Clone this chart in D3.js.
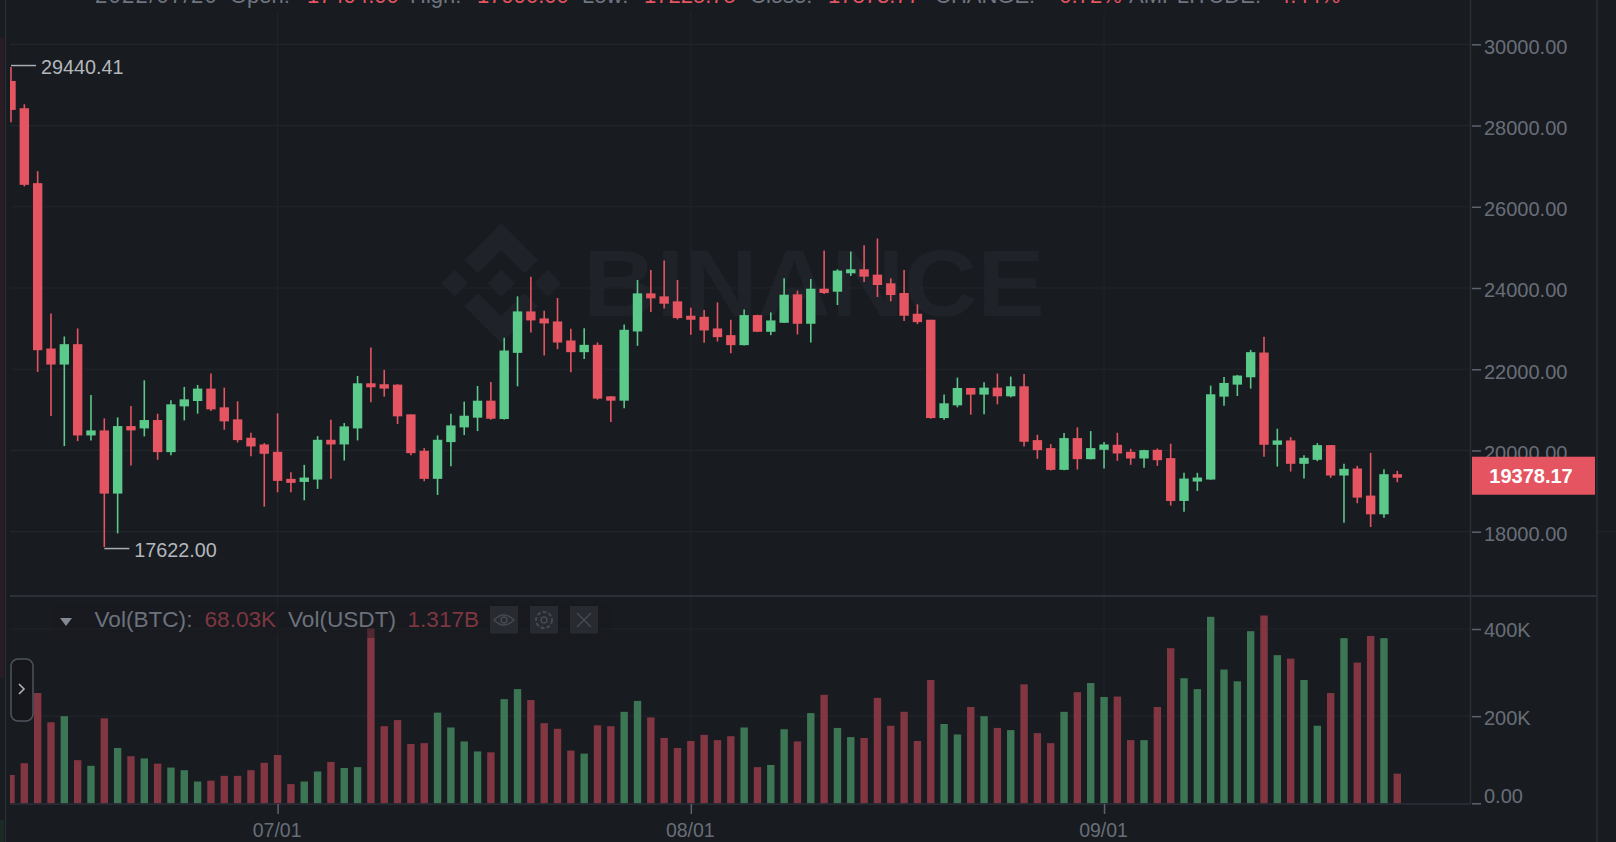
<!DOCTYPE html>
<html>
<head>
<meta charset="utf-8">
<script src="https://cdn.jsdelivr.net/npm/d3@7"></script>
<style>
  html, body { margin: 0; padding: 0; background: #181b20; overflow: hidden; }
  svg { display: block; }
  text { font-family: "Liberation Sans", Arial, sans-serif; }
  .domain { display: none; }
</style>
</head>
<body>
<div id="chart"></div>
<script>
// daily candles, one entry per day starting 2022/06/11
var opens = [29098,28426,26581,22510,22115,22617,20370,20494,18938,20601,20543,20749,19959,21086,21218,21523,21062,20766,20313,20148,
  19967,19301,19226,19284,20263,20148,20543,21654,21630,21621,20889,19992,19301,20206,20568,20807,21226,20774,22403,23424,
  23251,23177,22708,22420,22601,21333,21226,22930,23868,23794,23671,23317,23292,23004,22839,22593,23333,22922,23144,23844,
  23119,23983,23909,24362,24461,24329,24115,23876,23366,23218,20798,21111,21539,21375,21547,21333,21580,20255,20058,19523,
  20305,19786,20016,20140,19967,19802,20016,19811,18757,19235,19284,21325,21621,21802,22411,20140,20247,19671,19770,20132,
  19383,19556,18889,18428,19416];
var highs = [29440,28524,26876,23374,22806,23004,21366,20790,20815,21095,21728,20905,21235,21564,21613,21893,21547,21210,20436,20181,
  20914,19465,19646,20354,20757,20675,21835,22535,21984,21630,20889,20058,20370,20905,21202,21589,21687,22774,23794,24280,
  23440,23753,22996,23012,22658,21342,23103,24197,24444,24675,24197,23514,23457,23646,23218,23473,23342,23399,24239,23934,
  24222,24922,24461,24897,25053,25218,24239,24444,23597,23218,21375,21794,21539,21679,21893,21819,21885,20387,20156,20428,
  20568,20477,20206,20436,20041,20016,20049,20165,19449,19449,21597,21811,21860,22477,22798,20535,20329,19885,20181,20132,
  19671,19621,19942,19539,19498];
var lows = [28081,26500,21934,20848,20107,20231,20247,17622,17959,19630,20346,19770,19885,20741,20905,20971,20510,20198,19860,18618,
  18971,18971,18774,19054,19301,19753,20247,21185,21325,20650,19885,19243,18906,19613,20379,20477,20757,20760,21580,22905,
  22337,22494,21926,22255,21251,20700,21037,22576,23407,23498,23226,22848,22650,22683,22395,22585,22914,22839,23140,22856,
  22658,23852,23580,24296,24148,23778,23671,23185,23111,20782,20757,21062,20881,20889,21136,21309,20099,19794,19506,19515,
  19531,19780,19556,19745,19646,19572,19621,18642,18494,19004,19280,21103,21341,21523,19844,19605,19482,19309,19737,19325,
  18222,18700,18115,18346,19218];
var closes = [28385,26540,22469,22115,22617,20370,20494,18938,20601,20494,20749,19959,21136,21259,21523,21012,20716,20255,20099,19918,
  19251,19202,19333,20263,20148,20593,21654,21556,21523,20840,19934,19301,20263,20617,20856,21226,20782,22461,23424,23202,
  23128,22658,22420,22601,21276,21226,22971,23868,23745,23613,23259,23218,22955,22790,22593,23333,22922,23202,23835,23119,
  23983,23876,24428,24461,24280,24074,23827,23317,23160,20798,21161,21539,21375,21547,21333,21580,20214,20008,19523,20305,
  19786,20058,20148,19926,19802,20008,19761,18757,19309,19333,21383,21662,21844,22420,20140,20247,19671,19819,20132,19383,
  19547,18840,18428,19416,19330];
var volumes = [65,92,253,186,200,99,86,195,127,108,103,91,82,76,50,52,63,63,76,93,
  111,44,50,73,95,81,83,401,177,191,136,138,208,174,142,119,117,239,262,237,
  184,171,121,114,179,177,210,235,197,150,127,143,157,145,154,174,83,88,170,142,
  207,249,173,152,150,242,178,210,143,283,182,158,221,200,173,168,273,161,138,210,
  255,276,244,245,145,145,221,356,287,262,428,307,280,395,431,340,332,283,178,253,
  379,323,384,379,68];

var priceTicks = [30000,28000,26000,24000,22000,20000,18000];
var volumeTicks = [400,200,0];
var timeTickIndex = [20,51,82];
var timeTickLabels = ["07/01","08/01","09/01"];

var highLabel = { index: 0, value: 29440.41 };
var lowLabel = { index: 7, value: 17622.00 };
var lastPrice = 19378.17;

var headerParts = [
  { t: "2022/07/20", x: 95, up: false, gap: 1.3 }, { t: "Open:", x: 230, up: false }, { t: "17494.00", x: 307, up: true },
  { t: "High:", x: 410, up: false }, { t: "17990.00", x: 477, up: true }, { t: "Low:", x: 582, up: false },
  { t: "17225.75", x: 644, up: true }, { t: "Close:", x: 750, up: false }, { t: "17873.77", x: 828, up: true },
  { t: "CHANGE:", x: 935, up: false }, { t: "-0.72%", x: 1052, up: true }, { t: "AMPLITUDE:", x: 1129, up: false },
  { t: "4.44%", x: 1278, up: true }
];

var bg = "#181b20", grid = "#22252b", border = "#2b2f38", axisText = "#686e78";
var red = "#e45561", green = "#5ac98a", volRed = "#823642", volGreen = "#3c7654";

var W = 1616, H = 842;
var svg = d3.select("#chart").append("svg").attr("width", W).attr("height", H);

var x = d3.scaleLinear().domain([0, 104]).range([11, 1397.3]);
var y = d3.scaleLinear().domain([18000, 30000]).range([531.7, 44.3]);
var yVol = d3.scaleLinear().domain([0, 400]).range([803.3, 629]);

svg.append("defs").append("clipPath").attr("id", "plot")
  .append("rect").attr("x", 10).attr("y", 0).attr("width", 1460).attr("height", H);

// left panel remains
svg.append("rect").attr("x", 0).attr("y", 38).attr("width", 4).attr("height", 640).attr("fill", "#2a1c24");
svg.append("rect").attr("x", 0).attr("y", 820).attr("width", 4).attr("height", 22).attr("fill", "#1c2a24");
svg.append("line").attr("x1", 5.5).attr("x2", 5.5).attr("y1", 0).attr("y2", H).attr("stroke", border).attr("stroke-width", 1.2);

// watermark
var logo = svg.append("g").attr("transform", "translate(441,223) scale(0.95)").attr("fill", "#1f2228");
["M38.73 53.2l24.59-24.58 24.6 24.6 14.3-14.31L63.32 0 24.42 38.9l14.31 14.3z",
 "M0 63.31l14.3-14.31 14.31 14.31-14.31 14.3z",
 "M38.73 73.41l24.59 24.59 24.6-24.6 14.31 14.29-38.9 38.91-38.91-38.88v-.03l14.31-14.28z",
 "M98.28 63.31l14.3-14.31 14.31 14.3-14.31 14.31z",
 "M77.83 63.3L63.32 48.78 52.59 59.51l-1.24 1.23-2.54 2.54 14.51 14.5 14.51-14.51z"
].forEach(function(d) { logo.append("path").attr("d", d); });
svg.append("text").attr("x", 583).attr("y", 316).attr("textLength", 462).attr("lengthAdjust", "spacingAndGlyphs")
  .attr("font-size", 94).attr("font-weight", "bold").attr("fill", "#1f2228").text("BINANCE");

// grid
svg.append("g").selectAll("line").data(priceTicks).enter().append("line")
  .attr("x1", 10).attr("x2", 1470).attr("y1", function(d) { return y(d); }).attr("y2", function(d) { return y(d); })
  .attr("stroke", grid).attr("stroke-width", 1.2);
svg.append("g").selectAll("line").data(volumeTicks.slice(0, 2)).enter().append("line")
  .attr("x1", 10).attr("x2", 1470).attr("y1", function(d) { return yVol(d); }).attr("y2", function(d) { return yVol(d); })
  .attr("stroke", grid).attr("stroke-width", 1.2);
svg.append("g").selectAll("line").data(timeTickIndex).enter().append("line")
  .attr("x1", function(d) { return x(d); }).attr("x2", function(d) { return x(d); })
  .attr("y1", 12).attr("y2", 803).attr("stroke", grid).attr("stroke-width", 1);
svg.append("line").attr("x1", 1597).attr("x2", W).attr("y1", y(18000)).attr("y2", y(18000)).attr("stroke", grid).attr("stroke-width", 1.2);

// header, only its lower half is inside the frame
svg.append("g").selectAll("text").data(headerParts).enter().append("text")
  .attr("x", function(d) { return d.x; }).attr("y", 3).attr("font-size", 22)
  .attr("letter-spacing", function(d) { return d.gap || 0; })
  .attr("fill", function(d) { return d.up ? red : "#6f7580"; })
  .text(function(d) { return d.t; });

var idx = d3.range(opens.length);
var plot = svg.append("g").attr("clip-path", "url(#plot)");

// volume bars
plot.append("g").selectAll("rect").data(idx).enter().append("rect")
  .attr("x", function(i) { return x(i) - 3.7; })
  .attr("width", 7.4)
  .attr("y", function(i) { return yVol(volumes[i]); })
  .attr("height", function(i) { return yVol(0) - yVol(volumes[i]); })
  .attr("fill", function(i) { return closes[i] >= opens[i] ? volGreen : volRed; });

// wicks
plot.append("g").selectAll("line").data(idx).enter().append("line")
  .attr("x1", function(i) { return x(i); }).attr("x2", function(i) { return x(i); })
  .attr("y1", function(i) { return y(highs[i]); }).attr("y2", function(i) { return y(lows[i]); })
  .attr("stroke-width", 1.6)
  .attr("stroke", function(i) { return closes[i] >= opens[i] ? green : red; });

// bodies
plot.append("g").selectAll("rect").data(idx).enter().append("rect")
  .attr("x", function(i) { return x(i) - 4.7; })
  .attr("width", 9.4)
  .attr("y", function(i) { return y(Math.max(opens[i], closes[i])); })
  .attr("height", function(i) { return Math.max(2, Math.abs(y(opens[i]) - y(closes[i]))); })
  .attr("fill", function(i) { return closes[i] >= opens[i] ? green : red; });

// high and low labels
[highLabel, lowLabel].forEach(function(m) {
  var my = y(m.value) - (m === highLabel ? 1.5 : -1.5);
  svg.append("line").attr("x1", x(m.index)).attr("x2", x(m.index) + 25).attr("y1", my).attr("y2", my)
    .attr("stroke", "#a9adb3").attr("stroke-width", 1.5);
  svg.append("text").attr("x", x(m.index) + 30).attr("y", my + 8.5).attr("font-size", 19.8).attr("fill", "#b4b7bc")
    .text(m.value.toFixed(2));
});

// pane separator and axis lines
svg.append("line").attr("x1", 10).attr("x2", 1597).attr("y1", 596).attr("y2", 596).attr("stroke", border).attr("stroke-width", 2);
svg.append("line").attr("x1", 1470.5).attr("x2", 1470.5).attr("y1", 0).attr("y2", 804).attr("stroke", border).attr("stroke-width", 1.5);
svg.append("line").attr("x1", 1597).attr("x2", 1597).attr("y1", 0).attr("y2", H).attr("stroke", border).attr("stroke-width", 1.5);
svg.append("line").attr("x1", 10).attr("x2", 1470).attr("y1", 804).attr("y2", 804).attr("stroke", border).attr("stroke-width", 1.5);

// price axis
var priceAxis = svg.append("g").attr("transform", "translate(1472,0)")
  .call(d3.axisRight(y).tickValues(priceTicks).tickFormat(d3.format(".2f")).tickSize(9).tickPadding(3));
priceAxis.selectAll("line").attr("stroke", "#5d626c").attr("stroke-width", 1.5);
priceAxis.selectAll("text").attr("font-size", 20).attr("fill", axisText).attr("font-family", null).attr("dy", "0.72em").attr("y", -5.5);

// volume axis, the 0.00 label sits above its tick
var volAxis = svg.append("g").attr("transform", "translate(1472,0)")
  .call(d3.axisRight(yVol).tickValues(volumeTicks).tickFormat(function(d) { return d === 0 ? "0.00" : d + "K"; }).tickSize(9).tickPadding(3));
volAxis.selectAll("line").attr("stroke", "#5d626c").attr("stroke-width", 1.5);
volAxis.selectAll("text").attr("font-size", 20).attr("fill", axisText).attr("font-family", null).attr("dy", "0.72em")
  .attr("y", function(d) { return d === 0 ? -15.5 : -6.5; });

// time axis
var timeAxis = svg.append("g").attr("transform", "translate(0,804)")
  .call(d3.axisBottom(x).tickValues(timeTickIndex).tickFormat(function(d, i) { return timeTickLabels[i]; }).tickSize(10).tickPadding(9));
timeAxis.selectAll("line").attr("stroke", "#5d626c").attr("stroke-width", 1.5);
timeAxis.selectAll("text").attr("font-size", 19.5).attr("fill", axisText).attr("font-family", null).attr("dx", -1);

// last price tag
svg.append("rect").attr("x", 1472).attr("y", y(lastPrice) - 19).attr("width", 123).attr("height", 38).attr("fill", red);
svg.append("text").attr("x", 1531).attr("y", y(lastPrice) + 7).attr("text-anchor", "middle")
  .attr("font-size", 20).attr("font-weight", "bold").attr("fill", "#fff").text(lastPrice.toFixed(2));

// volume legend
svg.append("rect").attr("x", 50).attr("y", 604).attr("width", 560).attr("height", 34).attr("fill", bg).attr("fill-opacity", 0.45);
svg.append("path").attr("d", "M60 618h12l-6 8z").attr("fill", "#838995");
[{ t: "Vol(BTC):", x: 94.5, c: "#6c727c" }, { t: "68.03K", x: 204.5, c: "#7d3741" },
 { t: "Vol(USDT)", x: 288, c: "#6c727c" }, { t: "1.317B", x: 407.5, c: "#7d3741" }].forEach(function(d) {
  svg.append("text").attr("x", d.x).attr("y", 627).attr("font-size", 22.6).attr("fill", d.c).text(d.t);
});
[490, 530, 570].forEach(function(bx) {
  svg.append("rect").attr("x", bx).attr("y", 606).attr("width", 28).attr("height", 27.5).attr("fill", "#272a30");
});
var iconColor = "#454950";
svg.append("path").attr("d", "M494 620q10-10 20 0q-10 10-20 0z").attr("fill", "none").attr("stroke", iconColor).attr("stroke-width", 1.5);
svg.append("circle").attr("cx", 504).attr("cy", 620).attr("r", 3).attr("fill", "none").attr("stroke", iconColor).attr("stroke-width", 1.5);
svg.append("circle").attr("cx", 544).attr("cy", 620).attr("r", 8).attr("fill", "none").attr("stroke", iconColor).attr("stroke-width", 2).attr("stroke-dasharray", "4 2");
svg.append("circle").attr("cx", 544).attr("cy", 620).attr("r", 3).attr("fill", "none").attr("stroke", iconColor).attr("stroke-width", 1.5);
svg.append("path").attr("d", "M577 613l14 14M591 613l-14 14").attr("stroke", iconColor).attr("stroke-width", 1.5);

// collapse handle
svg.append("rect").attr("x", 11).attr("y", 659).attr("width", 22).attr("height", 62).attr("rx", 7)
  .attr("fill", "#15171c").attr("stroke", "#4f545c").attr("stroke-width", 1.5);
svg.append("path").attr("d", "M19 684l5 5-5 5").attr("fill", "none").attr("stroke", "#aeb2b8").attr("stroke-width", 1.6);
</script>
</body>
</html>
